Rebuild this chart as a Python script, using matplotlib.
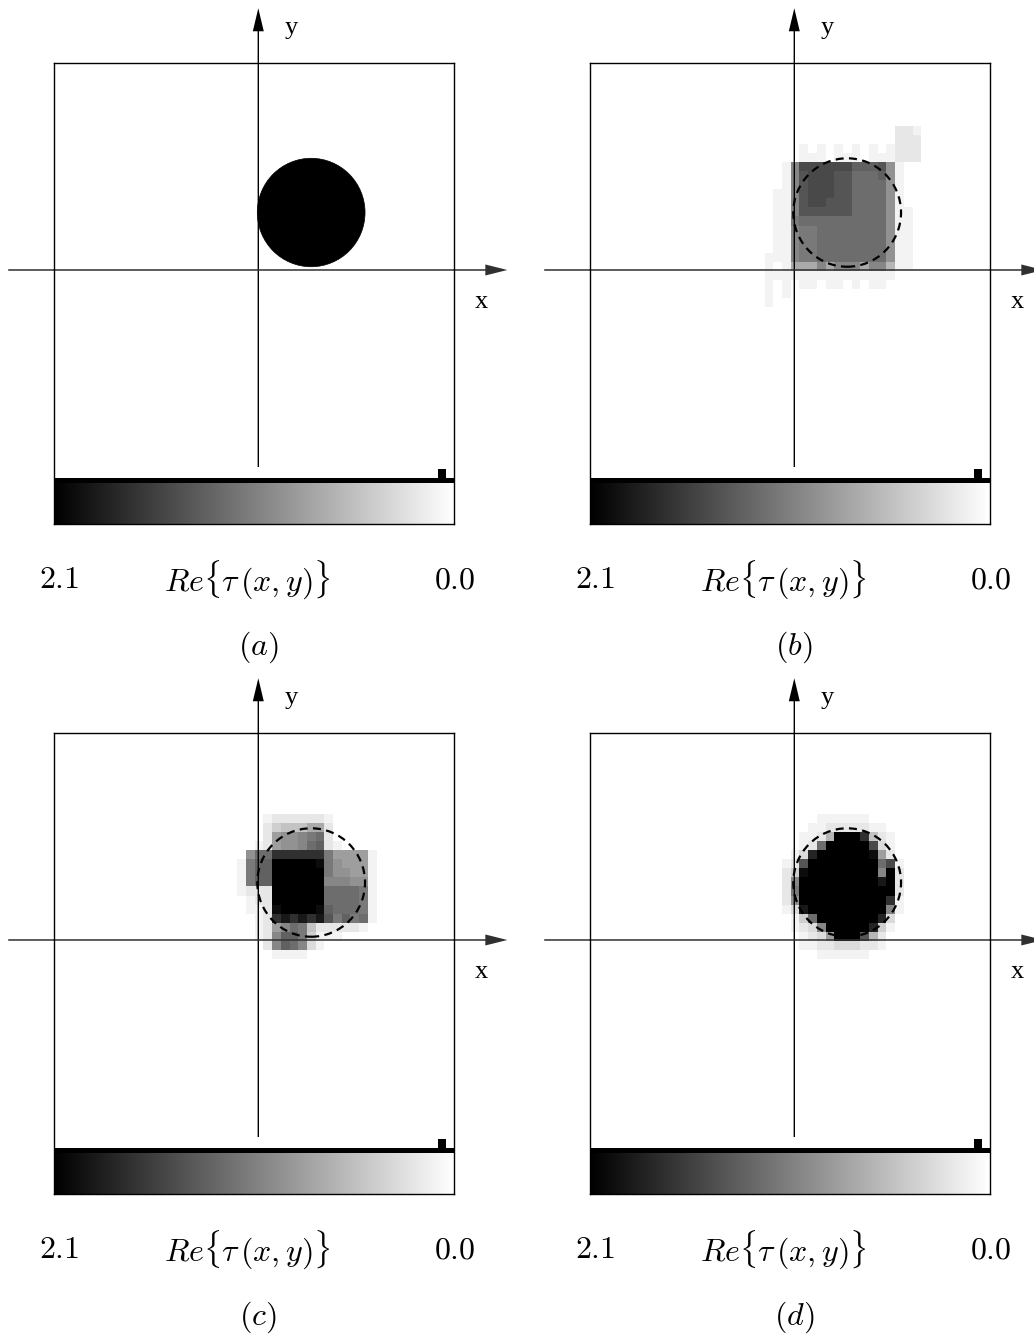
import numpy as np
import matplotlib
matplotlib.use("Agg")
import matplotlib.pyplot as plt
from matplotlib.patches import Ellipse, FancyArrow
from matplotlib.colors import Normalize
from matplotlib.cm import ScalarMappable

plt.rcParams["mathtext.fontset"] = "cm"

W, H = 1034, 1337

# ---------------- data ----------------
tau_max, tau_min = 2.1, 0.0
n_cells = 46                      # reconstruction grid (cells per side)
panel_labels = [r"$(a)$", r"$(b)$", r"$(c)$", r"$(d)$"]
cbar_left_label = r"$2.1$"
cbar_right_label = r"$0.0$"
cbar_title = r"$Re\{\tau\,(x,y)\}$"

# true scatterer (in grid-cell units, origin = domain centre)
true_center = (6.54, 6.46)
true_size = (12.39, 12.02)
true_value = 2.1

# window of the grid that holds the non-zero reconstructed cells
win_col0, win_row0, win_n = 19, 19, 20

# reconstructed Re{tau}, in tenths, rows listed from top (row 38) to bottom (row 19)
recon_b = [
    [0,0,0,0,0,0,0,0,0,0,0,0,0,0,0,0,2,2,1,0],
    [0,0,0,0,0,0,0,0,0,0,0,0,0,0,0,0,2,2,2,0],
    [0,0,0,0,0,1,0,1,0,1,0,1,0,1,0,1,2,2,2,0],
    [0,0,0,0,0,1,1,1,0,1,1,1,0,1,1,1,2,2,2,0],
    [0,0,0,1,10,15,15,15,15,15,15,13,13,13,14,9,1,0,0,0],
    [0,0,0,1,10,14,15,15,15,14,14,12,12,12,13,9,1,0,0,0],
    [0,0,0,1,10,14,15,15,15,14,14,12,12,12,12,9,1,0,0,0],
    [0,0,1,1,10,14,15,15,15,14,14,12,12,12,12,9,1,0,0,0],
    [0,0,1,1,10,14,15,15,14,14,14,12,12,12,12,9,1,0,0,0],
    [0,0,1,1,10,14,14,14,14,14,14,12,12,12,12,9,1,1,0,0],
    [0,0,1,1,11,12,12,12,12,12,12,12,12,12,12,9,1,1,0,0],
    [0,0,1,1,10,11,11,12,12,12,12,12,12,12,12,9,1,1,0,0],
    [0,0,1,1,10,11,11,12,12,12,12,12,12,12,12,9,1,1,0,0],
    [0,0,1,1,10,11,11,12,12,12,12,12,12,12,12,9,1,1,0,0],
    [0,1,1,1,10,11,11,12,12,12,12,12,12,12,12,9,1,1,0,0],
    [0,1,0,1,7,7,7,10,7,10,10,10,7,10,10,6,1,1,0,0],
    [0,1,1,1,1,1,1,1,1,1,1,1,1,1,1,1,0,0,0,0],
    [0,1,0,1,0,1,1,0,1,1,0,1,0,1,1,0,0,0,0,0],
    [0,1,0,1,0,0,0,0,0,0,0,0,0,0,0,0,0,0,0,0],
    [0,1,0,0,0,0,0,0,0,0,0,0,0,0,0,0,0,0,0,0],
]

recon_c = [
    [0,0,0,0,0,0,0,0,0,0,0,0,0,0,0,0,0,0,0,0],
    [0,0,0,0,0,0,0,0,0,0,0,0,0,0,0,0,0,0,0,0],
    [0,0,0,0,0,1,2,2,2,2,2,2,1,0,0,0,0,0,0,0],
    [0,0,0,0,0,2,4,5,5,5,7,7,2,0,0,0,0,0,0,0],
    [0,0,0,0,0,2,8,9,9,10,11,12,2,0,0,0,0,0,0,0],
    [0,0,0,0,1,2,8,9,9,10,12,13,2,1,0,0,0,0,0,0],
    [0,0,0,9,12,12,17,17,17,17,17,17,11,8,8,8,8,1,0,0],
    [0,0,1,11,13,13,21,21,21,21,21,20,11,9,8,8,8,1,0,0],
    [0,0,1,11,13,13,21,21,21,21,21,21,11,9,9,8,8,1,0,0],
    [0,0,1,11,13,13,21,21,21,21,21,21,10,10,10,9,9,1,0,0],
    [0,0,1,2,2,2,21,21,21,21,21,21,12,12,12,12,11,1,0,0],
    [0,0,0,1,2,2,21,21,21,21,21,21,12,12,12,12,11,1,0,0],
    [0,0,0,1,1,2,20,21,21,21,21,20,13,12,12,12,11,1,0,0],
    [0,0,0,0,1,2,17,19,17,19,17,19,14,11,13,11,12,1,0,0],
    [0,0,0,0,1,2,8,10,12,11,5,2,2,2,2,2,1,0,0,0],
    [0,0,0,0,1,2,10,13,13,11,4,1,1,1,0,0,0,0,0,0],
    [0,0,0,0,0,2,10,13,12,10,3,1,0,0,0,0,0,0,0,0],
    [0,0,0,0,0,0,1,1,1,1,0,0,0,0,0,0,0,0,0,0],
    [0,0,0,0,0,0,0,0,0,0,0,0,0,0,0,0,0,0,0,0],
    [0,0,0,0,0,0,0,0,0,0,0,0,0,0,0,0,0,0,0,0],
]

recon_d = [
    [0,0,0,0,0,0,0,0,0,0,0,0,0,0,0,0,0,0,0,0],
    [0,0,0,0,0,0,0,0,0,0,0,0,0,0,0,0,0,0,0,0],
    [0,0,0,0,0,0,0,1,1,1,1,1,1,0,0,0,0,0,0,0],
    [0,0,0,0,0,0,1,1,2,2,2,2,2,1,1,0,0,0,0,0],
    [0,0,0,0,0,1,1,2,6,21,21,21,17,5,2,1,0,0,0,0],
    [0,0,0,0,0,1,2,12,21,21,21,21,21,15,3,1,0,0,0,0],
    [0,0,0,0,1,3,18,21,21,21,21,21,21,20,8,2,0,0,0,0],
    [0,0,0,1,2,14,21,21,21,21,21,21,21,21,12,15,1,0,0,0],
    [0,0,0,2,4,20,21,21,21,21,21,21,21,21,10,21,2,0,0,0],
    [0,0,0,2,10,21,21,21,21,21,21,21,21,21,19,21,2,0,0,0],
    [0,0,0,2,11,21,21,21,21,21,21,21,21,21,21,21,2,0,0,0],
    [0,0,0,2,9,21,21,21,21,21,21,21,21,21,21,17,1,0,0,0],
    [0,0,0,1,3,19,21,21,21,21,21,21,21,21,21,10,1,0,0,0],
    [0,0,0,0,1,4,12,21,21,21,21,21,21,21,18,3,0,0,0,0],
    [0,0,0,0,1,2,3,10,21,21,21,21,21,18,4,1,0,0,0,0],
    [0,0,0,0,0,1,2,3,8,21,21,21,14,6,2,0,0,0,0,0],
    [0,0,0,0,0,1,1,2,2,3,3,3,2,2,1,0,0,0,0,0],
    [0,0,0,0,0,0,0,1,1,1,1,1,1,0,0,0,0,0,0,0],
    [0,0,0,0,0,0,0,0,0,0,0,0,0,0,0,0,0,0,0,0],
    [0,0,0,0,0,0,0,0,0,0,0,0,0,0,0,0,0,0,0,0],
]

# value histogram drawn on top of the colour bar (tau range and relative height)
hist_lo = [0.0, 0.044]
hist_hi = [2.1, 0.084]
hist_h = [0.30, 0.82]

# ---------------- layout helpers ----------------
fig = plt.figure(figsize=(W / 100, H / 100), dpi=100)
fig.patch.set_facecolor("white")


def rect(x, y, w, h):
    return [x / W, 1 - (y + h) / H, w / W, h / H]


def ftext(x, y, s, **kw):
    fig.text(x / W, 1 - y / H, s, **kw)


offsets = [(0, 0), (536, 0), (0, 670), (536, 670)]
recons = [None, recon_b, recon_c, recon_d]
half = n_cells / 2
cmap = "gray_r"
norm = Normalize(vmin=tau_min, vmax=tau_max)

for k, (ox, oy) in enumerate(offsets):
    # image area
    ax = fig.add_axes(rect(ox + 54.3, oy + 63.3, 400, 415))
    ax.set_xlim(-half, half)
    ax.set_ylim(-half, half)
    ax.set_aspect("auto")
    ax.axis("off")

    rec = recons[k]
    if rec is None:
        ax.add_patch(Ellipse(true_center, true_size[0], true_size[1],
                             facecolor="black", edgecolor="black", lw=0.5,
                             zorder=2))
    else:
        arr = np.array(rec, dtype=float) / 10.0
        x0 = win_col0 - half
        y0 = win_row0 - half
        ax.imshow(arr, cmap=cmap, norm=norm, origin="upper",
                  extent=(x0, x0 + win_n, y0, y0 + win_n),
                  interpolation="nearest", aspect="auto", zorder=1)
        ax.add_patch(Ellipse(true_center, true_size[0], true_size[1],
                             fill=False, edgecolor="black", lw=1.6,
                             linestyle=(0, (3.6, 2.4)), zorder=3))

    # coordinate arrows
    ax.add_patch(FancyArrow(0.46, -21.75, 0, 50.85, width=0.16,
                            head_width=1.26, head_length=2.55,
                            length_includes_head=True, color="black",
                            lw=0, clip_on=False, zorder=4))
    ax.add_patch(FancyArrow(-28.3, 0.09, 57.4, 0, width=0.17,
                            head_width=1.22, head_length=2.53,
                            length_includes_head=True, color="#303030",
                            lw=0, clip_on=False, zorder=4))

    # colour bar
    cax = fig.add_axes(rect(ox + 54.3, oy + 482.7, 400, 41.3))
    cb = fig.colorbar(ScalarMappable(norm=norm, cmap=cmap), cax=cax,
                      orientation="horizontal")
    cb.ax.invert_xaxis()
    cb.set_ticks([])
    cb.outline.set_visible(False)

    # histogram strip
    hax = fig.add_axes(rect(ox + 54.3, oy + 466, 400, 17))
    hax.set_xlim(tau_max, tau_min)
    hax.set_ylim(0, 1)
    hax.axis("off")
    hax.patch.set_alpha(0)
    for lo, hi, h in zip(hist_lo, hist_hi, hist_h):
        hax.bar(lo, h, width=hi - lo, align="edge", color="black",
                edgecolor="none")

    # outer frame
    fax = fig.add_axes(rect(ox + 54.3, oy + 63.3, 400, 460.7))
    fax.set_xticks([])
    fax.set_yticks([])
    fax.patch.set_alpha(0)
    for s in fax.spines.values():
        s.set_linewidth(1.0)
    fax.set_zorder(6)

    # texts
    ftext(ox + 291.7, oy + 28, "y", ha="center", va="center",
          family="Liberation Serif", fontsize=19)
    ftext(ox + 481.7, oy + 302.5, "x", ha="center", va="center",
          family="Liberation Serif", fontsize=19)
    ftext(ox + 59.5, oy + 580, cbar_left_label, ha="center", va="center",
          fontsize=23)
    ftext(ox + 247.5, oy + 580, cbar_title, ha="center", va="center",
          fontsize=23)
    ftext(ox + 455, oy + 580, cbar_right_label, ha="center", va="center",
          fontsize=23)
    ftext(ox + 258, oy + 647, panel_labels[k], ha="center", va="center",
          fontsize=23)

fig.savefig("out.png", dpi=100, facecolor="white")
